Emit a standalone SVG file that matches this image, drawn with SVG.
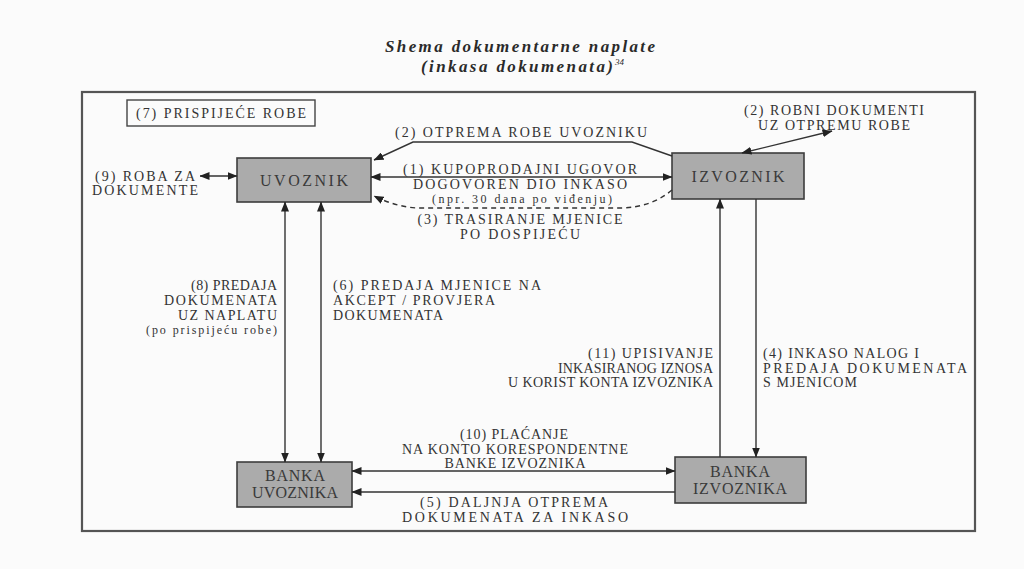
<svg xmlns="http://www.w3.org/2000/svg" width="1024" height="569" viewBox="0 0 1024 569">
<defs>
<marker id="ah" viewBox="0 0 10 8" refX="9.5" refY="4" markerWidth="10" markerHeight="8" markerUnits="userSpaceOnUse" orient="auto-start-reverse">
<path d="M0,0 L10,4 L0,8 Z" fill="#222"/>
</marker>
<style>
text{font-family:"Liberation Serif","DejaVu Serif","Times New Roman",serif;}
.t{font-size:14px;fill:#333;}
.s{font-size:12px;}
.n{font-size:16px;fill:#3a3a3a;}
.box{fill:#ababab;stroke:#3d3d3d;stroke-width:1.6;}
.c{fill:none;stroke:#333;stroke-width:1.4;}
.title{font-size:17px;font-weight:bold;font-style:italic;fill:#2a2a2a;}
</style>
</defs>
<rect width="1024" height="569" fill="#fbfbfb"/>
<g id="title">
<text class="title" x="385" y="52" textLength="270" lengthAdjust="spacing">Shema dokumentarne naplate</text>
<text class="title" x="421" y="72" textLength="192" lengthAdjust="spacing">(inkasa dokumenata)</text>
<text x="615" y="65" style="font-size:9px;font-style:italic;fill:#2a2a2a">34</text>
</g>
<rect x="82" y="92" width="893" height="439" fill="none" stroke="#555" stroke-width="2.2"/>
<g id="prispijece">
<rect x="127" y="100" width="188" height="26" fill="none" stroke="#444" stroke-width="1.4"/>
<text class="t" x="136" y="118" textLength="170" lengthAdjust="spacing">(7) PRISPIJEĆE ROBE</text>
</g>
<g id="uvoznik">
<rect class="box" x="237" y="158" width="134" height="44"/>
<text class="n" x="304" y="186" text-anchor="middle" textLength="88" lengthAdjust="spacing">UVOZNIK</text>
</g>
<g id="izvoznik">
<rect class="box" x="672" y="153" width="132" height="46"/>
<text class="n" x="738" y="182" text-anchor="middle" textLength="93" lengthAdjust="spacing">IZVOZNIK</text>
</g>
<g id="banka-uvoznika">
<rect class="box" x="237" y="462" width="115" height="45"/>
<text class="n" x="295" y="481" text-anchor="middle" textLength="60" lengthAdjust="spacing">BANKA</text>
<text class="n" x="295" y="498" text-anchor="middle" textLength="86" lengthAdjust="spacing">UVOZNIKA</text>
</g>
<g id="banka-izvoznika">
<rect class="box" x="675" y="457" width="131" height="46"/>
<text class="n" x="740" y="477" text-anchor="middle" textLength="60" lengthAdjust="spacing">BANKA</text>
<text class="n" x="740" y="494" text-anchor="middle" textLength="94" lengthAdjust="spacing">IZVOZNIKA</text>
</g>
<g id="connectors">
<path class="c" d="M672,156 L632,142 L413,142 L374,160" marker-end="url(#ah)"/>
<line class="c" x1="371" y1="177" x2="672" y2="177" marker-start="url(#ah)" marker-end="url(#ah)"/>
<path class="c" d="M672,190 Q652,207 622,208 L418,208 Q396,207 374,196" stroke-dasharray="5,4" marker-end="url(#ah)"/>
<line class="c" x1="200" y1="176" x2="237" y2="176" marker-start="url(#ah)" marker-end="url(#ah)"/>
<line class="c" x1="742" y1="153" x2="832" y2="131" marker-start="url(#ah)" marker-end="url(#ah)"/>
<line class="c" x1="285" y1="202" x2="285" y2="462" marker-start="url(#ah)" marker-end="url(#ah)"/>
<line class="c" x1="321" y1="202" x2="321" y2="462" marker-start="url(#ah)" marker-end="url(#ah)"/>
<line class="c" x1="720" y1="457" x2="720" y2="199" marker-end="url(#ah)"/>
<line class="c" x1="756" y1="199" x2="756" y2="457" marker-end="url(#ah)"/>
<line class="c" x1="352" y1="471" x2="675" y2="471" marker-start="url(#ah)" marker-end="url(#ah)"/>
<line class="c" x1="675" y1="492" x2="352" y2="492" marker-end="url(#ah)"/>
</g>
<g id="labels">
<text class="t" x="95" y="181" textLength="100" lengthAdjust="spacing">(9) ROBA ZA</text>
<text class="t" x="92" y="195" textLength="106" lengthAdjust="spacing">DOKUMENTE</text>
<text class="t" x="521" y="137" text-anchor="middle" textLength="252" lengthAdjust="spacing">(2) OTPREMA ROBE UVOZNIKU</text>
<text class="t" x="520" y="174" text-anchor="middle" textLength="234" lengthAdjust="spacing">(1) KUPOPRODAJNI UGOVOR</text>
<text class="t" x="520" y="189" text-anchor="middle" textLength="214" lengthAdjust="spacing">DOGOVOREN DIO INKASO</text>
<text class="t s" x="522" y="203" text-anchor="middle" textLength="180" lengthAdjust="spacing">(npr. 30 dana po viđenju)</text>
<text class="t" x="520" y="224" text-anchor="middle" textLength="205" lengthAdjust="spacing">(3) TRASIRANJE MJENICE</text>
<text class="t" x="520" y="239" text-anchor="middle" textLength="120" lengthAdjust="spacing">PO DOSPIJEĆU</text>
<text class="t" x="834" y="115" text-anchor="middle" textLength="180" lengthAdjust="spacing">(2) ROBNI DOKUMENTI</text>
<text class="t" x="834" y="130" text-anchor="middle" textLength="152" lengthAdjust="spacing">UZ OTPREMU ROBE</text>
<text class="t" x="277" y="290" text-anchor="end" textLength="86" lengthAdjust="spacing">(8) PREDAJA</text>
<text class="t" x="277" y="305" text-anchor="end" textLength="113" lengthAdjust="spacing">DOKUMENATA</text>
<text class="t" x="277" y="320" text-anchor="end" textLength="99" lengthAdjust="spacing">UZ NAPLATU</text>
<text class="t s" x="277" y="334" text-anchor="end" textLength="131" lengthAdjust="spacing">(po prispijeću robe)</text>
<text class="t" x="333" y="290" textLength="208" lengthAdjust="spacing">(6) PREDAJA MJENICE NA</text>
<text class="t" x="333" y="305" textLength="162" lengthAdjust="spacing">AKCEPT / PROVJERA</text>
<text class="t" x="333" y="320" textLength="110" lengthAdjust="spacing">DOKUMENATA</text>
<text class="t" x="713" y="358" text-anchor="end" textLength="125" lengthAdjust="spacing">(11) UPISIVANJE</text>
<text class="t" x="713" y="373" text-anchor="end" textLength="155" lengthAdjust="spacing">INKASIRANOG IZNOSA</text>
<text class="t" x="713" y="387" text-anchor="end" textLength="205" lengthAdjust="spacing">U KORIST KONTA IZVOZNIKA</text>
<text class="t" x="763" y="358" textLength="156" lengthAdjust="spacing">(4) INKASO NALOG I</text>
<text class="t" x="763" y="373" textLength="204" lengthAdjust="spacing">PREDAJA DOKUMENATA</text>
<text class="t" x="763" y="387" textLength="94" lengthAdjust="spacing">S MJENICOM</text>
<text class="t" x="514" y="439" text-anchor="middle" textLength="108" lengthAdjust="spacing">(10) PLAĆANJE</text>
<text class="t" x="515" y="454" text-anchor="middle" textLength="226" lengthAdjust="spacing">NA KONTO KORESPONDENTNE</text>
<text class="t" x="515" y="468" text-anchor="middle" textLength="141" lengthAdjust="spacing">BANKE IZVOZNIKA</text>
<text class="t" x="514" y="507" text-anchor="middle" textLength="188" lengthAdjust="spacing">(5) DALJNJA OTPREMA</text>
<text class="t" x="515" y="522" text-anchor="middle" textLength="226" lengthAdjust="spacing">DOKUMENATA ZA INKASO</text>
</g>
</svg>
